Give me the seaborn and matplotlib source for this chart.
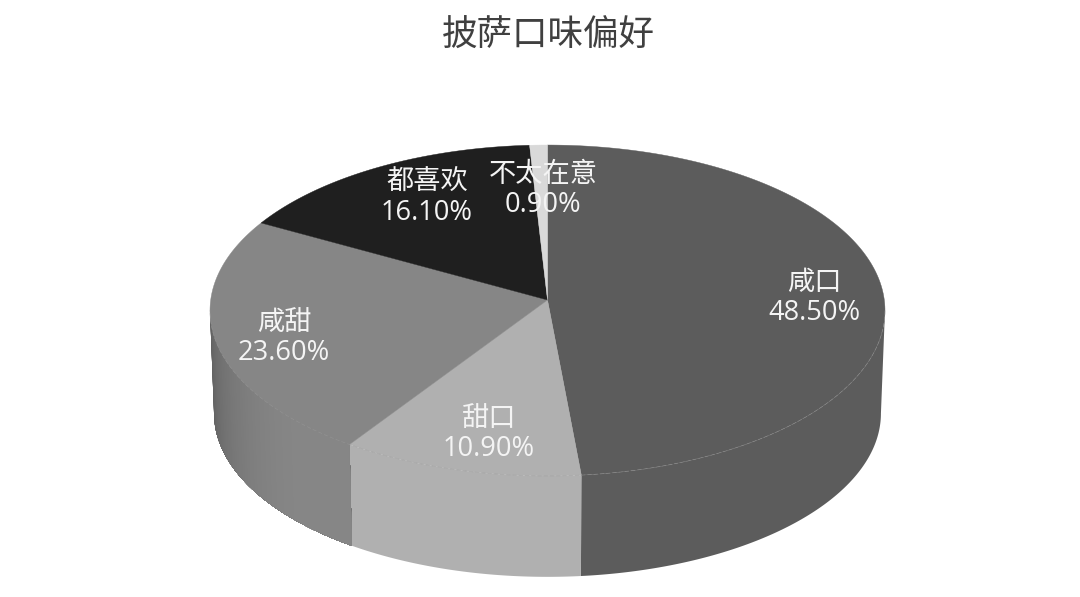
import numpy as np
import seaborn as sns
import matplotlib.pyplot as plt
from matplotlib.colors import to_rgb

# DATA
flavours = ["咸口", "甜口", "咸甜", "都喜欢", "不太在意"]
shares = [48.5, 10.9, 23.6, 16.1, 0.9]
colors = ["#5c5c5c", "#b0b0b0", "#868686", "#1f1f1f", "#d9d9d9"]
title = "披萨口味偏好"

# LAYOUT (axes run in figure pixels)
label_pos = [(814, 298), (489, 434), (284, 338), (427, 198), (543, 190)]
cx, cy = 547.5, 300
rx, ry = 336.8, 164.8
tilt = 0.0634
depth = 103
base_scale = 0.988


def project(deg, scale=1.0, drop=0.0):
    # clockwise angle from 12 o'clock -> tilted disc with a bit of perspective
    t = np.radians(deg)
    u, v = np.sin(t), np.cos(t)
    w = 1 + tilt * v
    return cx + scale * rx * u / w, cy + drop - scale * ry * v / w


def wall_shade(deg):
    # left part of the side wall gets darker towards the edge
    return np.clip(1.0 - 0.33 * ((deg - 225) / 45) ** 1.5, 0.67, 1.0)


sns.set_theme(style="white")
plt.rcParams["font.family"] = ["Open Sans", "Noto Sans CJK SC", "DejaVu Sans"]

fig = plt.figure(figsize=(10.8, 5.97), dpi=100)
ax = fig.add_axes([0, 0, 1, 1])
ax.set_xlim(0, 1080)
ax.set_ylim(597, 0)
ax.axis("off")

edges = np.concatenate([[0], np.cumsum(shares)]) * 3.6

# only the front of the wall shows, up to where the rim turns back
front_from = np.degrees(np.arccos(-tilt))
front_to = 360 - front_from

# SIDE WALL
for i in range(len(shares)):
    start, end = max(edges[i], front_from), min(edges[i + 1], front_to)
    if end <= start:
        continue
    base = np.array(to_rgb(colors[i]))
    # left slices are shaded, bands run on to the slice start so no seams show
    steps = np.arange(end, start, -0.5) if start > 180 else [end]
    for b in steps:
        arc = np.linspace(start, b, 120)
        x_top, y_top = project(arc)
        x_low, y_low = project(arc[::-1], base_scale, depth)
        shade = wall_shade(max(b, 225)) if start > 180 else 1.0
        ax.fill(np.r_[x_top, x_low], np.r_[y_top, y_low], color=base * shade, lw=0, zorder=2)

# TOP FACE
for i in range(len(shares)):
    arc = np.linspace(edges[i], edges[i + 1], 200)
    x_arc, y_arc = project(arc)
    ax.fill(np.r_[cx, x_arc], np.r_[cy, y_arc], color=colors[i], lw=0.3, zorder=3)

# faint seam between top face and wall
arc = np.linspace(front_from, front_to, 400)
x_arc, y_arc = project(arc)
ax.plot(x_arc, y_arc, color="#9a9a9a", lw=0.5, ls=(0, (6, 3)), alpha=0.6, zorder=4)

# LABELS
for name, share, (lx, ly) in zip(flavours, shares, label_pos):
    ax.text(lx, ly, f"{name}\n{share:.2f}%", color="#f4f4f4", fontsize=19.6, ha="center",
            va="center", linespacing=1.14, zorder=5)

ax.text(548, 36, title, color="#404040", fontsize=25.6, ha="center", va="center",
        family=["Noto Sans CJK SC", "DejaVu Sans"])

fig.savefig("out.png", dpi=100)
